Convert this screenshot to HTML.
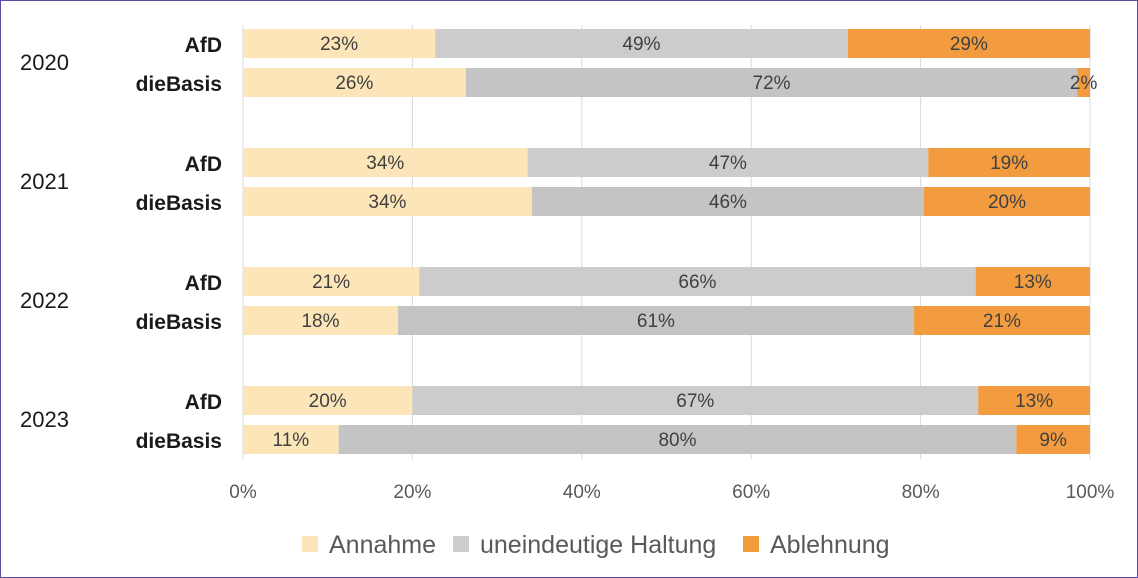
<!DOCTYPE html>
<html><head><meta charset="utf-8"><style>
body{margin:0;background:#fff;}
svg{display:block;font-family:"Liberation Sans",sans-serif;}
</style></head><body>
<svg width="1138" height="578">
<rect x="0.5" y="0.5" width="1137" height="577" fill="#fff" stroke="#5b4aa8"/>
<g id="grid"></g><g id="bars"></g><g id="labels"></g>
</svg>
<script>
const years=["2020","2021","2022","2023"];
const parties=["AfD","dieBasis"];
const annahme=[22.7,26.3,33.6,34.1,20.8,18.3,20.0,11.3];
const unein=[48.7,72.2,47.3,46.3,65.7,60.9,66.8,80.0];
const ablehnung=[28.6,1.5,19.1,19.6,13.5,20.8,13.2,8.7];
const annahmeLbl=["23%","26%","34%","34%","21%","18%","20%","11%"];
const uneinLbl=["49%","72%","47%","46%","66%","61%","67%","80%"];
const ablehnLbl=["29%","2%","19%","20%","13%","21%","13%","9%"];
const ticks=[0,20,40,60,80,100];
const tickLbl=["0%","20%","40%","60%","80%","100%"];
const NS="http://www.w3.org/2000/svg";
const svg=document.querySelector('svg');
const x0=243,x1=1090;
const xs=v=>x0+(x1-x0)*v/100;
const barY=i=>{const g=Math.floor(i/2),p=i%2;return 29+g*119+p*39;};
const bh=29;
function el(t,a,parent){const e=document.createElementNS(NS,t);for(const k in a)e.setAttribute(k,a[k]);(parent||svg).appendChild(e);return e;}
const grid=document.getElementById('grid'),bars=document.getElementById('bars'),labels=document.getElementById('labels');
ticks.forEach((t,i)=>{
 const l=el('line',{x1:xs(t),x2:xs(t),y1:25,y2:459,stroke:'#d9d9d9','stroke-width':1},grid);
 
 
 const tx=el('text',{x:xs(t),y:498,'text-anchor':'middle','font-size':19,fill:'#595959'},labels);
 tx.textContent=tickLbl[i];
 
 
});
const series=[[annahme,annahmeLbl,'#fce6b9','annahme'],[unein,uneinLbl,null,'uneindeutig'],[ablehnung,ablehnLbl,'#f39c3f','ablehnung']];
for(let i=0;i<8;i++){
 let acc=0;const y=barY(i);
 series.forEach(s=>{
  const v=s[0][i];const col=s[2]||(i%2?'#c4c4c4':'#cccccc');
  const r=el('rect',{x:xs(acc),y:y,width:xs(acc+v)-xs(acc),height:bh,fill:col},bars);
  
  
  const t=el('text',{x:(xs(acc)+xs(acc+v))/2,y:y+21,'text-anchor':'middle','font-size':19,fill:'#404040'},labels);
  t.textContent=s[1][i];
  
  
  acc+=v;
 });
 const pl=el('text',{x:222,y:y+23,'text-anchor':'end','font-size':21,'font-weight':'bold',fill:'#1a1a1a'},labels);
 pl.textContent=parties[i%2];
 
 
}
years.forEach((yr,g)=>{
 const t=el('text',{x:20,y:70+g*119,'font-size':22,fill:'#1a1a1a'},labels);
 t.textContent=yr;
 
 
});
const leg=[["Annahme",'#fce6b9',302],["uneindeutige Haltung",'#cccccc',453],["Ablehnung",'#f39c3f',743]];
leg.forEach(l=>{
 const r=el('rect',{x:l[2],y:536,width:16,height:16,fill:l[1]},labels);
 
 
 const t=el('text',{x:l[2]+27,y:553,'font-size':25,fill:'#595959'},labels);
 t.textContent=l[0];
 
 
});
</script>
</body></html>
